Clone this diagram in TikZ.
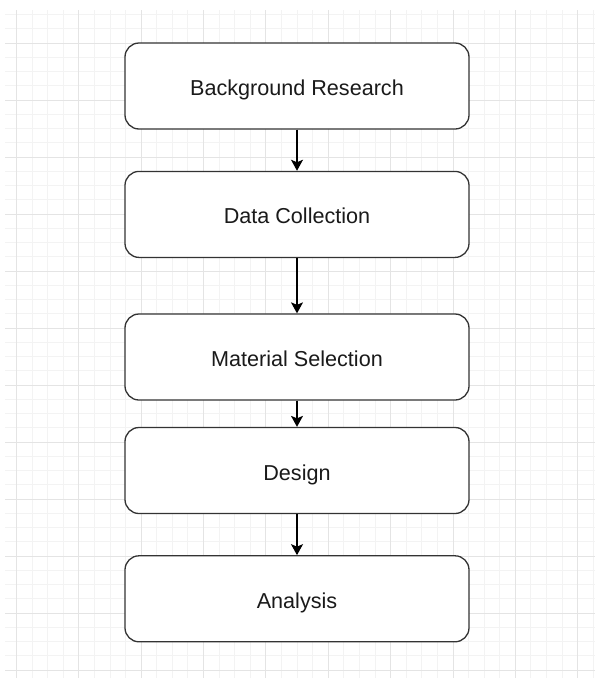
\documentclass[tikz,border=0pt]{standalone}
\usepackage{fontspec}
\setmainfont{Liberation Sans}
\usetikzlibrary{arrows.meta}
\definecolor{gridminor}{HTML}{F3F3F3}
\definecolor{gridmajor}{HTML}{E4E4E4}
\definecolor{boxline}{HTML}{333333}
\definecolor{txt}{HTML}{1A1A1A}
\tikzset{
  stepbox/.style={draw=boxline, line width=1.3pt, rounded corners=14pt, fill=white,
    minimum width=344pt, minimum height=86pt, inner sep=0pt},
  flow/.style={draw=black, line width=1.3pt, -{Stealth[length=11pt,width=12pt,inset=2.5pt]}},
  lbl/.style={font=\fontsize{21.6}{24}\selectfont, text=txt, anchor=base, inner sep=0pt},
  minorline/.style={draw=gridminor, line width=1pt},
  majorline/.style={draw=gridmajor, line width=1pt}
}
\begin{document}
\begin{tikzpicture}[x=1pt,y=-1pt]
  \useasboundingbox (0,0) rectangle (595,678);
  \fill[white] (0,0) rectangle (595,678);
  % background grid: minor lines first, major lines on top
  \foreach \k in {0,...,37}{
    \pgfmathsetmacro\gx{16.5+\k*15.59}
    \draw[minorline] (\gx,10) -- (\gx,678);
  }
  \foreach \k in {-2,...,44}{
    \pgfmathsetmacro\gy{43+\k*14.25}
    \draw[minorline] (5,\gy) -- (595,\gy);
  }
  \foreach \k in {0,4,...,36}{
    \pgfmathsetmacro\gx{16.5+\k*15.59}
    \draw[majorline] (\gx,10) -- (\gx,678);
  }
  \foreach \k in {0,4,...,44}{
    \pgfmathsetmacro\gy{43+\k*14.25}
    \draw[majorline] (5,\gy) -- (595,\gy);
  }
  % process steps
  \node[stepbox] (b1) at (297,86) {};
  \node[stepbox] (b2) at (297,214.4) {};
  \node[stepbox] (b3) at (297,357) {};
  \node[stepbox] (b4) at (297,470.5) {};
  \node[stepbox] (b5) at (297,598.8) {};
  % step titles
  \node[lbl] (t1) at (297,95.5) {Background Research};
  \node[lbl] (t2) at (297,223.9) {Data Collection};
  \node[lbl] (t3) at (297,366.5) {Material Selection};
  \node[lbl] (t4) at (297,480) {Design};
  \node[lbl] (t5) at (297,608.3) {Analysis};
  % flow between steps
  \draw[flow] (b1) -- (b2);
  \draw[flow] (b2) -- (b3);
  \draw[flow] (b3) -- (b4);
  \draw[flow] (b4) -- (b5);
\end{tikzpicture}
\end{document}
